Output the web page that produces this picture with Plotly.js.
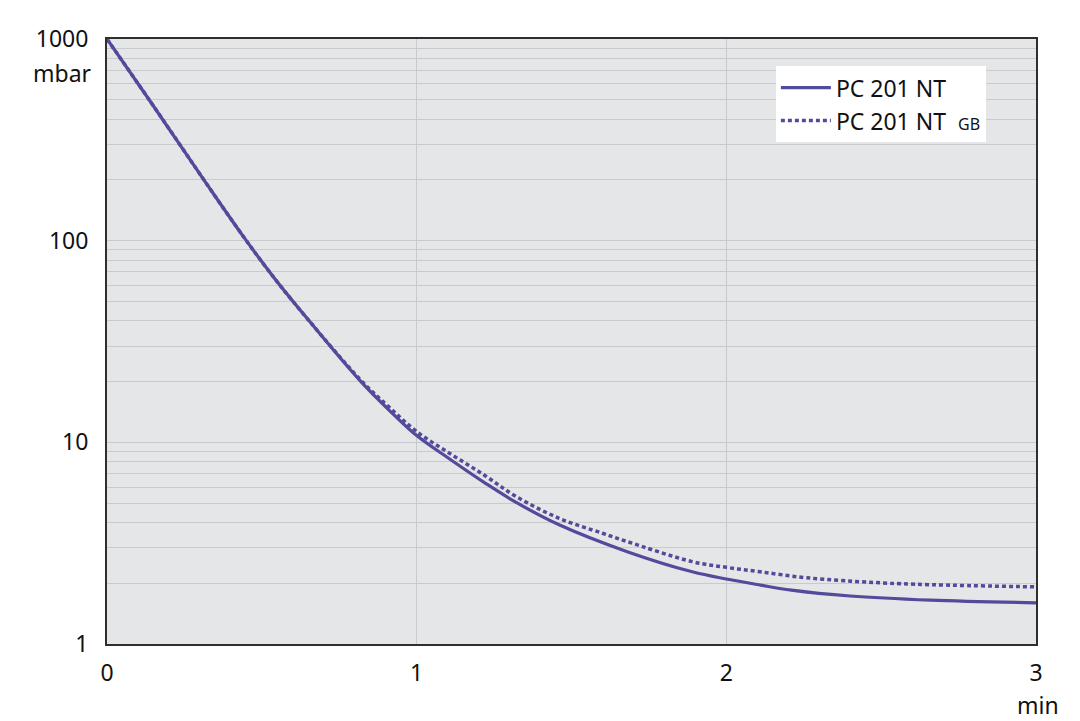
<!DOCTYPE html>
<html>
<head>
<meta charset="utf-8">
<script src="https://cdn.plot.ly/plotly-3.0.1.min.js"></script>
<style>
  html, body { margin: 0; padding: 0; background: #ffffff; }
  #chart { width: 1080px; height: 721px; }
</style>
</head>
<body>
<div id="chart"></div>
<script>
// pump-down curves, pressure (mbar) over time (min)
const timeStd = [0, 0.14, 0.24, 0.32, 0.44, 0.54, 0.65, 0.82, 0.91, 1.0, 1.11, 1.22, 1.32, 1.46, 1.68, 1.89, 2.0, 2.11, 2.21, 2.4, 2.66, 3.0];
const pressStd = [1000, 490, 292, 193, 105, 65.3, 40.5, 20, 14.5, 10.8, 8.2, 6.3, 5.05, 3.9, 2.87, 2.28, 2.1, 1.96, 1.85, 1.73, 1.65, 1.60];

const timeGb = [0, 0.14, 0.24, 0.32, 0.44, 0.54, 0.65, 0.82, 0.91, 1.0, 1.11, 1.22, 1.32, 1.46, 1.6, 1.68, 1.89, 2.0, 2.11, 2.26, 2.53, 3.0];
const pressGb = [1000, 490, 292, 193, 105, 65.3, 40.5, 20.3, 15, 11.3, 8.75, 6.85, 5.4, 4.2, 3.54, 3.22, 2.56, 2.40, 2.28, 2.13, 2.0, 1.92];

const seriesNames = ['PC 201 NT', 'PC 201 NT  <span style="font-size:16px">GB</span>'];
const xTicks = [0, 1, 2, 3];
const decades = [1, 10, 100, 1000];

const lineColor = '#524b9b';
const font = 'Noto Sans, Open Sans, sans-serif';

// every 1..9 step of each decade gets a grid line, only decades get a label
const yTickVals = [];
const yTickText = [];
for (const d of decades) {
  if (d === 1000) {
    yTickVals.push(d);
    yTickText.push(String(d));
    break;
  }
  for (let k = 1; k <= 9; k++) {
    yTickVals.push(d * k);
    yTickText.push(k === 1 ? String(d) : '');
  }
}

const traces = [
  {
    x: timeStd, y: pressStd,
    mode: 'lines', type: 'scatter',
    name: seriesNames[0],
    line: { color: lineColor, width: 3.2, shape: 'spline', smoothing: 1 }
  },
  {
    x: timeGb, y: pressGb,
    mode: 'lines', type: 'scatter',
    name: seriesNames[1],
    line: { color: lineColor, width: 3.5, dash: '4px,3px', shape: 'spline', smoothing: 1 }
  }
];

const layout = {
  width: 1080, height: 721,
  margin: { l: 107, r: 44, t: 39, b: 77 },
  paper_bgcolor: '#ffffff',
  plot_bgcolor: '#e5e6e8',
  font: { family: font, size: 23, color: '#111111' },
  showlegend: true,
  legend: {
    x: 0.72, y: 0.955, xanchor: 'left', yanchor: 'top',
    bgcolor: '#ffffff', borderwidth: 0,
    font: { family: font, size: 23, color: '#111111' },
    itemwidth: 50, tracegroupgap: 0
  },
  xaxis: {
    range: [0, 3],
    tickvals: xTicks,
    ticktext: xTicks.map(String),
    ticks: '', ticklabelstandoff: 7,
    showgrid: true, gridcolor: '#c9cacd', gridwidth: 1,
    zeroline: false,
    showline: true, linecolor: '#2e2e2e', linewidth: 2, mirror: true
  },
  yaxis: {
    type: 'log',
    range: [0, 3],
    tickvals: yTickVals,
    ticktext: yTickText,
    ticks: '', ticklabelstandoff: 12,
    showgrid: true, gridcolor: '#c9cacd', gridwidth: 1,
    zeroline: false,
    showline: true, linecolor: '#2e2e2e', linewidth: 2, mirror: true
  },
  annotations: [
    {
      text: 'mbar', xref: 'paper', yref: 'paper',
      x: 0, y: 0.944, xanchor: 'right', yanchor: 'middle', xshift: -13,
      showarrow: false, font: { family: font, size: 23, color: '#111111' }
    },
    {
      text: 'min', xref: 'x', yref: 'paper',
      x: 3, y: -0.101, xanchor: 'center', yanchor: 'middle', xshift: 2,
      showarrow: false, font: { family: font, size: 23, color: '#111111' }
    }
  ]
};

Plotly.newPlot('chart', traces, layout, { displayModeBar: false, staticPlot: true });
</script>
</body>
</html>
